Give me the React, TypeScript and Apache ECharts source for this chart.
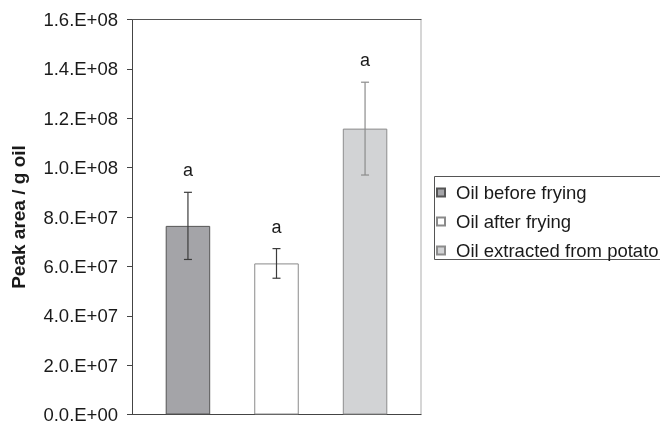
import React, { useEffect, useRef } from "react";
import * as echarts from "echarts";

const seriesNames = ["Oil before frying", "Oil after frying", "Oil extracted from potato"];
const means = [7.64e7, 6.12e7, 1.158e8];
const errors = [1.36e7, 0.6e7, 1.88e7];
const letters = ["a", "a", "a"];
const yTickLabels = [
  "0.0.E+00", "2.0.E+07", "4.0.E+07", "6.0.E+07", "8.0.E+07",
  "1.0.E+08", "1.2.E+08", "1.4.E+08", "1.6.E+08",
];
const yTitle = "Peak area / g oil";

const fills = ["#a4a4a8", "#ffffff", "#d2d3d5"];
const borders = ["#555555", "#8a8a8a", "#8c8c8c"];
const errColors = ["#3c3c3c", "#3c3c3c", "#8c8c8c"];
const BAR_W = 44.5;
const GAP_RATIO = 0.99;
const FONT = "'Liberation Sans', Arial, sans-serif";

export default function App() {
  const ref = useRef<HTMLDivElement>(null);
  useEffect(() => {
    if (!ref.current) return;
    const chart = echarts.init(ref.current, null, { renderer: "svg" });
    const barSeries = seriesNames.map((name, i) => ({
      name,
      type: "bar",
      data: [means[i]],
      barWidth: BAR_W,
      barGap: `${GAP_RATIO * 100}%`,
      itemStyle: { color: fills[i], borderColor: borders[i], borderWidth: 1 },
      z: 2,
    }));
    const errSeries = {
      type: "custom",
      name: "err",
      z: 5,
      data: means.map((m, i) => [0, m, errors[i], i]),
      renderItem: (params: any, api: any) => {
        const i = api.value(3);
        const m = api.value(1);
        const e = api.value(2);
        const c = api.coord([0, m]);
        const step = BAR_W * (1 + GAP_RATIO);
        const x = c[0] + (i - 1) * step;
        const top = api.coord([0, m + e])[1];
        const bot = api.coord([0, m - e])[1];
        const col = errColors[i];
        const cap = 4;
        const ls = { stroke: col, lineWidth: 1.2 };
        return {
          type: "group",
          children: [
            { type: "line", shape: { x1: x, y1: top, x2: x, y2: bot }, style: ls },
            { type: "line", shape: { x1: x - cap, y1: top, x2: x + cap, y2: top }, style: ls },
            { type: "line", shape: { x1: x - cap, y1: bot, x2: x + cap, y2: bot }, style: ls },
            {
              type: "text",
              x,
              y: top - 22,
              style: {
                text: letters[i],
                fill: "#1a1a1a",
                font: `18px ${FONT}`,
                align: "center",
                verticalAlign: "middle",
              },
            },
          ],
        };
      },
    };
    chart.setOption({
      animation: false,
      textStyle: { fontFamily: FONT },
      grid: { left: 132, right: 239, top: 19.5, bottom: 7, containLabel: false },
      graphic: [
        {
          type: "rect",
          z: 0,
          shape: { x: 434.5, y: 176.5, width: 260, height: 83 },
          style: { fill: "#fff", stroke: "#555", lineWidth: 1 },
        },
      ],
      legend: {
        data: seriesNames,
        orient: "vertical",
        left: 434,
        top: 176,
        itemWidth: 8,
        itemHeight: 8,
        itemGap: 10,
        icon: "rect",
        padding: [7, 4, 3, 2],
        textStyle: {
          fontSize: 18.5,
          lineHeight: 18,
          color: "#1a1a1a",
          fontFamily: FONT,
          padding: [0, 0, 0, 6],
        },
      },
      xAxis: [
        {
          type: "category",
          data: [""],
          axisLine: { onZero: false, lineStyle: { color: "#444", width: 1 } },
          axisTick: { show: false },
          axisLabel: { show: false },
        },
        {
          type: "category",
          data: [""],
          position: "top",
          axisLine: { show: true, onZero: false, lineStyle: { color: "#555", width: 1 } },
          axisTick: { show: false },
          axisLabel: { show: false },
        },
      ],
      yAxis: [
        {
          type: "value",
          min: 0,
          max: 1.6e8,
          interval: 2e7,
          name: yTitle,
          nameLocation: "middle",
          nameGap: 104,
          nameTextStyle: { fontSize: 19, fontWeight: "bold", color: "#1a1a1a", fontFamily: FONT },
          axisLine: { show: true, onZero: false, lineStyle: { color: "#444", width: 1 } },
          axisTick: { show: true, length: 5, lineStyle: { color: "#444" } },
          axisLabel: {
            fontSize: 18.5,
            color: "#1a1a1a",
            margin: 14,
            fontFamily: FONT,
            formatter: (v: number) => yTickLabels[Math.round(v / 2e7)],
          },
          splitLine: { show: false },
        },
        {
          type: "value",
          min: 0,
          max: 1.6e8,
          interval: 2e7,
          position: "right",
          axisLine: { show: true, onZero: false, lineStyle: { color: "#c8c8c8", width: 1.5 } },
          axisTick: { show: false },
          axisLabel: { show: false },
          splitLine: { show: false },
        },
      ],
      series: [...barSeries, errSeries],
    });
    return () => chart.dispose();
  }, []);
  return (
    <div
      ref={ref}
      style={{ position: "fixed", left: 0, top: 0, width: 660, height: 424 }}
    />
  );
}
